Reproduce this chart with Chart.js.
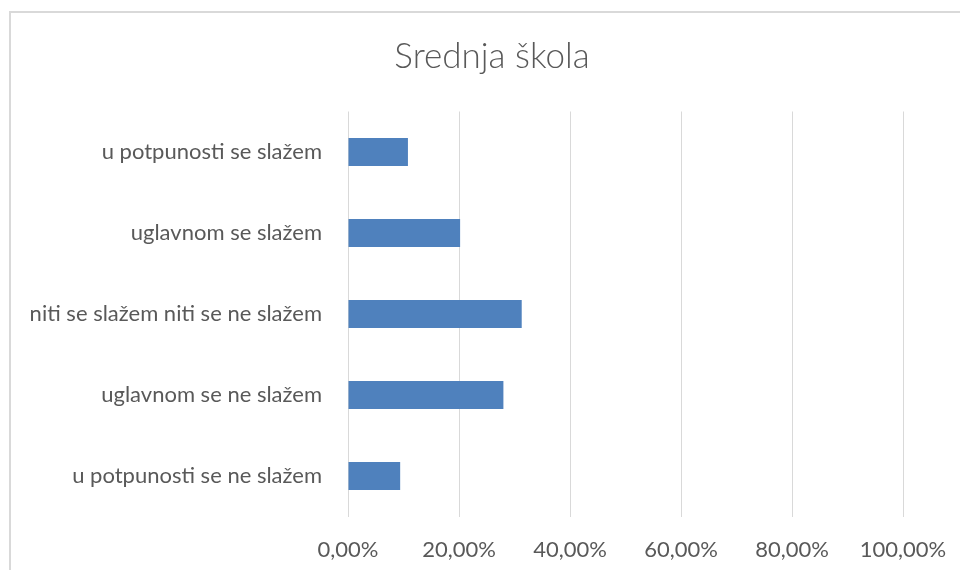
<!DOCTYPE html>
<html>
<head>
<meta charset="utf-8">
<script src="https://cdn.jsdelivr.net/npm/chart.js@4"></script>
<style>
  html, body { margin:0; padding:0; background:#fff; overflow:hidden; width:960px; height:570px; }
  .frame { position:absolute; left:9px; top:11px; width:962px; height:600px; border:2px solid #d9d9d9; }
  #chart { position:absolute; left:0; top:0; }
</style>
</head>
<body>
<div class="frame"><canvas id="chart" width="962" height="557"></canvas></div>
<script>
// Srednja škola — horizontal bar, percentages
const TITLE      = 'Srednja škola';
const CATEGORIES = ['u potpunosti se slažem','uglavnom se slažem','niti se slažem niti se ne slažem','uglavnom se ne slažem','u potpunosti se ne slažem'];
const VALUES     = [10.8, 20.2, 31.3, 28.0, 9.4];
const X_MAX      = 100;
const X_STEP     = 20;

const BAR_COLOR  = '#4f81bd';
const TEXT_COLOR = '#595959';
const GRID_COLOR = '#d9d9d9';
const FONT       = 'Lato';

const fmtPct = v => v.toFixed(2).replace('.', ',') + '%';

new Chart(document.getElementById('chart'), {
  type: 'bar',
  data: {
    labels: CATEGORIES,
    datasets: [{ data: VALUES, backgroundColor: BAR_COLOR, categoryPercentage: 1, barPercentage: 0.345 }]
  },
  options: {
    indexAxis: 'y',
    responsive: false,
    animation: false,
    layout: { padding: 0 },
    plugins: {
      legend: { display:false },
      tooltip: { enabled:false },
      title: {
        display: true, text: TITLE, color: TEXT_COLOR,
        font: { family: FONT, size: 35, weight: '300', lineHeight: 1.2 },
        padding: { top: 23, bottom: 33.5 }
      }
    },
    scales: {
      x: {
        min: 0, max: X_MAX,
        ticks: { stepSize: X_STEP, color: TEXT_COLOR, padding: 20, font: { family: FONT, size: 22 }, callback: v => fmtPct(v) },
        grid: { color: GRID_COLOR, lineWidth: 1, drawTicks: false },
        border: { display: false },
        // keep the plot narrower than the frame so the title stays centred on the whole frame
        afterFit: s => { s.height = 53.5; s.paddingRight = 70; }
      },
      y: {
        ticks: { color: TEXT_COLOR, padding: 26, font: { family: FONT, size: 22 } },
        grid: { display: false, drawTicks: false },
        border: { display: false },
        afterFit: s => { s.width = 337; }
      }
    }
  }
});
</script>
</body>
</html>
